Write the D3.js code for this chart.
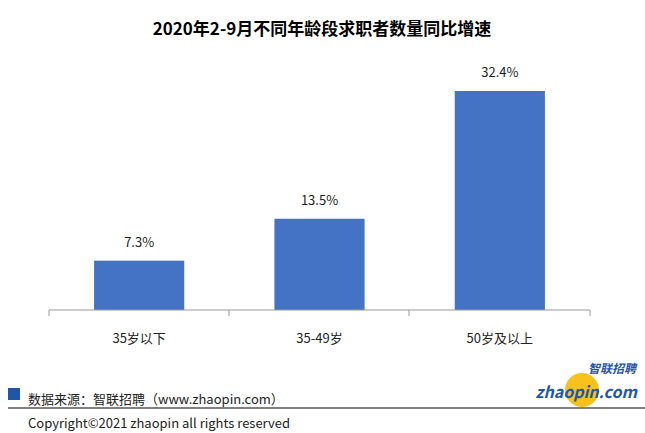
<!DOCTYPE html>
<html><head><meta charset="utf-8">
<script src="https://cdn.jsdelivr.net/npm/d3@7"></script>
<style>body{margin:0;background:#fff}text{font-family:"Noto Sans CJK SC",sans-serif}</style>
</head><body><svg width="645" height="433"></svg>
<script>
var categories = ["35岁以下", "35-49岁", "50岁及以上"];
var values = [7.3, 13.5, 32.4];

var svg = d3.select("svg");
var x = d3.scaleBand().domain(categories).range([49, 590]).paddingInner(0.5).paddingOuter(0.25);
var y = d3.scaleLinear().domain([0, 32.4]).range([310, 91]);

svg.append("text").attr("x", 322).attr("y", 35).attr("text-anchor", "middle")
    .attr("font-size", 17).attr("font-weight", "bold").text("2020年2-9月不同年龄段求职者数量同比增速");

svg.selectAll(".bar").data(values).enter().append("rect")
    .attr("x", (d, i) => x(categories[i])).attr("width", x.bandwidth())
    .attr("y", d => y(d)).attr("height", d => y(0) - y(d)).attr("fill", "#4472c4");

svg.selectAll(".lbl").data(values).enter().append("text")
    .attr("x", (d, i) => x(categories[i]) + x.bandwidth() / 2).attr("y", d => y(d) - 14)
    .attr("text-anchor", "middle").attr("font-size", 13).attr("fill", "#222").text(d => d + "%");

// axis line with ticks at band edges
var edges = [49, 229, 409, 590];
svg.append("line").attr("x1", 49).attr("x2", 590).attr("y1", 310).attr("y2", 310).attr("stroke", "#999");
edges.forEach(function(e){
    svg.append("line").attr("x1", e).attr("x2", e).attr("y1", 310).attr("y2", 316).attr("stroke", "#999");
});
categories.forEach(function(c){
    svg.append("text").attr("x", x(c) + x.bandwidth() / 2).attr("y", 343).attr("text-anchor", "middle")
        .attr("font-size", 13).attr("fill", "#222").text(c);
});

// footer
svg.append("rect").attr("x", 8).attr("y", 388).attr("width", 12).attr("height", 12).attr("fill", "#1f56a8");
svg.append("text").attr("x", 28).attr("y", 404).attr("font-size", 13).attr("fill", "#222").text("数据来源：智联招聘（www.zhaopin.com）");
svg.append("line").attr("x1", 8).attr("x2", 645).attr("y1", 408).attr("y2", 408).attr("stroke", "#000");
svg.append("text").attr("x", 28).attr("y", 428).attr("font-size", 13).attr("fill", "#222").text("Copyright©2021  zhaopin all rights reserved");

// logo
svg.append("circle").attr("cx", 582).attr("cy", 390).attr("r", 17).attr("fill", "#f7c21c");
svg.append("text").attr("x", 636).attr("y", 373).attr("text-anchor", "end").attr("font-size", 12)
    .attr("font-weight", "bold").attr("font-style", "italic").attr("fill", "#1f56a8").text("智联招聘");
svg.append("text").attr("x", 637).attr("y", 398).attr("text-anchor", "end").attr("font-size", 16)
    .attr("font-weight", "bold").attr("font-style", "italic").attr("fill", "#1f56a8").text("zhaopin.com");
</script></body></html>
